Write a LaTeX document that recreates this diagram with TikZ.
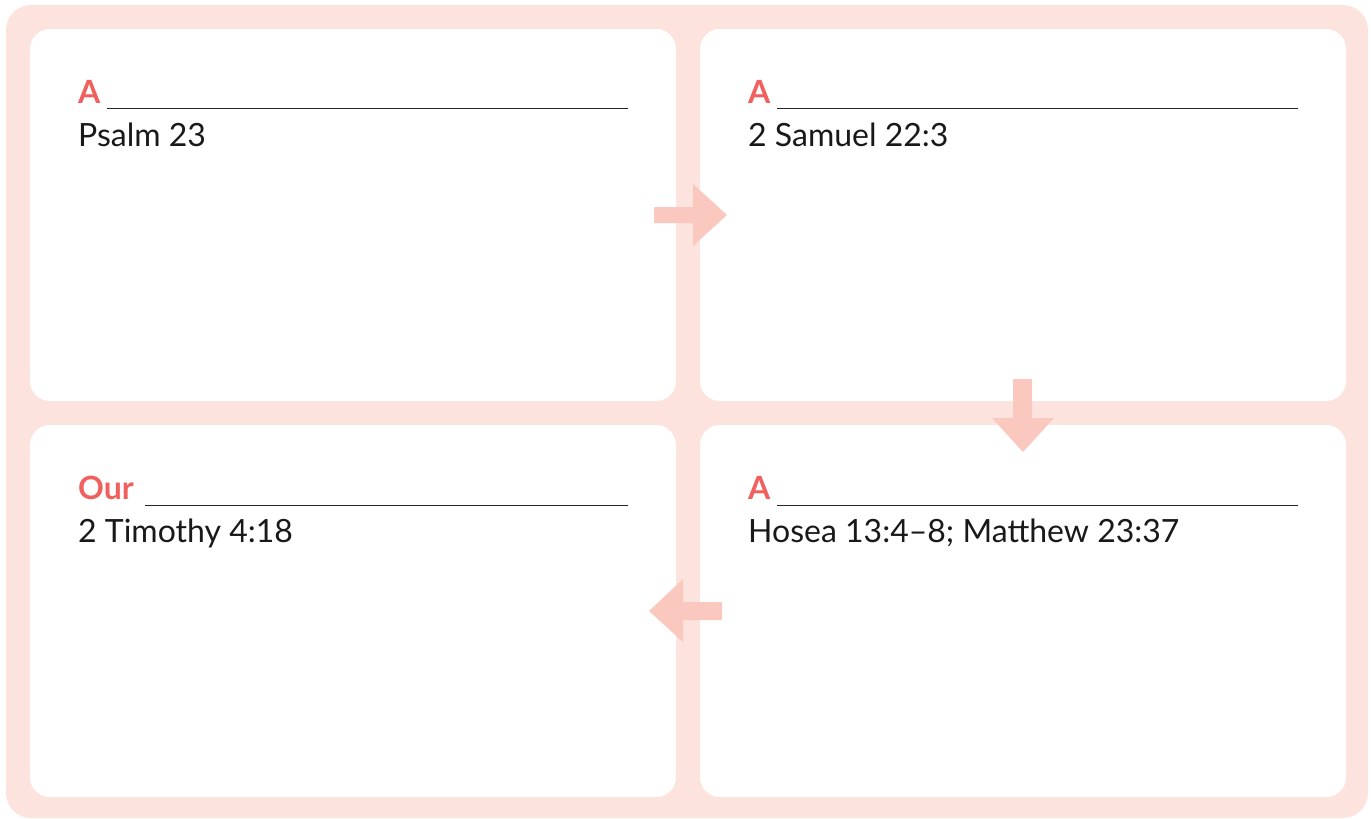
\documentclass[tikz,border=0pt]{standalone}
\usepackage{fontspec}
\setmainfont{Lato}
\definecolor{bgpink}{HTML}{FDE3DD}
\definecolor{arrowpink}{HTML}{FAC8BF}
\definecolor{titlered}{HTML}{F0605E}
\begin{document}
\begin{tikzpicture}[x=1pt,y=-1pt,
  panel/.style={fill=white, rounded corners=20pt},
  head/.style={anchor=base west, inner sep=0pt, text=titlered, font=\fontsize{32}{36}\selectfont\bfseries},
  ref/.style={anchor=base west, inner sep=0pt, text=black!90, font=\fontsize{32}{36}\selectfont},
  rule/.style={draw=black!85, line width=1pt},
  flow/.style={fill=arrowpink}]
\useasboundingbox (0,0) rectangle (1371,819);
\fill[bgpink, rounded corners=25pt] (6,5) rectangle (1368,818);
% panels
\fill[panel] (30,29) rectangle (676,401);
\fill[panel] (700,29) rectangle (1346,401);
\fill[panel] (30,425) rectangle (676,797);
\fill[panel] (700,425) rectangle (1346,797);
% texts
\node[head] (h1) at (78,103) {A};
\draw[rule] (107,108) -- (628,108);
\node[ref] (r1) at (78,146) {Psalm 23};
\node[head] (h2) at (748,103) {A};
\draw[rule] (777,108) -- (1298,108);
\node[ref] (r2) at (748,146) {2 Samuel 22:3};
\node[head] (h3) at (78,499) {Our};
\draw[rule] (145,505) -- (628,505);
\node[ref] (r3) at (78,542) {2 Timothy 4:18};
\node[head] (h4) at (748,499) {A};
\draw[rule] (777,505) -- (1298,505);
\node[ref] (r4) at (748,542) {Hosea 13:4–8; Matthew 23:37};
% arrows
\fill[flow] (654,207)--(693,207)--(693,184)--(727,215)--(693,246)--(693,223)--(654,223)--cycle;
\fill[flow] (1013,379)--(1032,379)--(1032,418)--(1054,418)--(1023,452)--(992,418)--(1013,418)--cycle;
\fill[flow] (722,602)--(683,602)--(683,579)--(649,611)--(683,642)--(683,620)--(722,620)--cycle;
\end{tikzpicture}
\end{document}
